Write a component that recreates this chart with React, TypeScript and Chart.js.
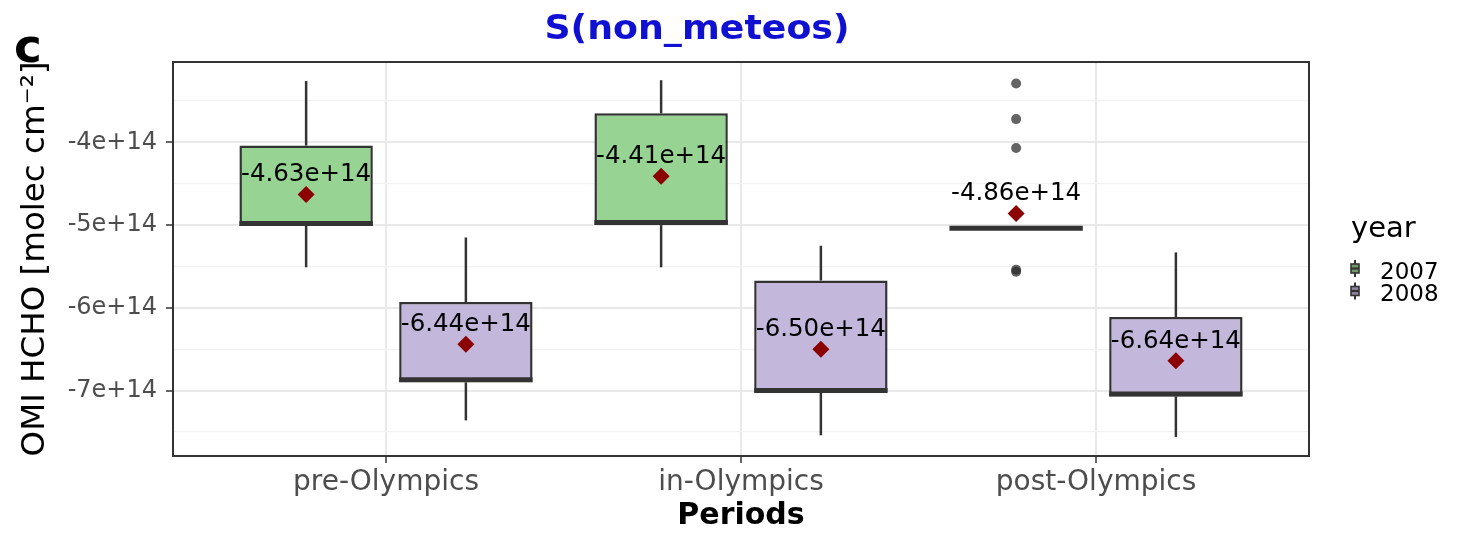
import React, { useEffect, useRef } from 'react';
import { Chart, registerables } from 'chart.js';

Chart.register(...registerables);

// ---- data -------------------------------------------------------------
const CATEGORIES = ['pre-Olympics', 'in-Olympics', 'post-Olympics'];
const YEARS = ['2007', '2008'];

const WHISKER_HIGH_2007 = [-3.26e14, -3.25e14, -5.04e14];
const Q3_2007 = [-4.04e14, -3.65e14, -5.04e14];
const MEDIAN_2007 = [-4.98e14, -4.97e14, -5.04e14];
const Q1_2007 = [-5.01e14, -5.0e14, -5.04e14];
const WHISKER_LOW_2007 = [-5.51e14, -5.51e14, -5.04e14];
const MEAN_2007 = [-4.63e14, -4.41e14, -4.86e14];

const WHISKER_HIGH_2008 = [-5.15e14, -5.25e14, -5.33e14];
const Q3_2008 = [-5.93e14, -5.67e14, -6.11e14];
const MEDIAN_2008 = [-6.87e14, -7.0e14, -7.04e14];
const Q1_2008 = [-6.9e14, -7.02e14, -7.07e14];
const WHISKER_LOW_2008 = [-7.36e14, -7.54e14, -7.56e14];
const MEAN_2008 = [-6.44e14, -6.5e14, -6.64e14];

// outlying observations of the 2007 post-Olympics group
const OUTLIERS_POST_2007 = [-3.29e14, -3.72e14, -4.07e14, -5.54e14, -5.565e14];

const Y_MAJOR_TICKS = [-7e14, -6e14, -5e14, -4e14];
const Y_MINOR_TICKS = [-7.5e14, -6.5e14, -5.5e14, -4.5e14, -3.5e14];
const Y_MIN = -7.79e14;
const Y_MAX = -3.03e14;

// ---- styling ----------------------------------------------------------
const FONT = "'DejaVu Sans', sans-serif";
const BOX_FILL = ['#97D393', '#C4B7DC'];
const LEGEND_KEY_FILL = ['#6E9A69', '#8E85A0'];
const LINE_DARK = '#333333';
const TICK_TEXT = '#4D4D4D';
const DODGE = 0.9 / 4; // half of the dodge width between the two years
const X_EXPAND = 0.6;

const BOX_STATS = [
  { lo: WHISKER_LOW_2007, q1: Q1_2007, med: MEDIAN_2007, q3: Q3_2007, hi: WHISKER_HIGH_2007 },
  { lo: WHISKER_LOW_2008, q1: Q1_2008, med: MEDIAN_2008, q3: Q3_2008, hi: WHISKER_HIGH_2008 },
];
const MEANS = [MEAN_2007, MEAN_2008];

const isMajor = (v: number) => Y_MAJOR_TICKS.some((m) => Math.abs(m - v) < 1e9);

function line(ctx: CanvasRenderingContext2D, x1: number, y1: number, x2: number, y2: number) {
  ctx.beginPath();
  ctx.moveTo(x1, y1);
  ctx.lineTo(x2, y2);
  ctx.stroke();
}

// text drawn with a horizontal stretch (wide bold face)
function wideText(ctx: CanvasRenderingContext2D, text: string, cx: number, y: number, stretch: number) {
  ctx.save();
  ctx.translate(cx, y);
  ctx.scale(stretch, 1);
  ctx.textAlign = 'center';
  ctx.fillText(text, 0, 0);
  ctx.restore();
}

// whiskers and median bars, drawn right after each box dataset
const boxParts = {
  id: 'boxParts',
  afterDatasetDraw(chart: any, args: any) {
    const stats = BOX_STATS[args.index];
    if (!stats) return;
    const ys = chart.scales.y;
    const ctx: CanvasRenderingContext2D = chart.ctx;
    ctx.save();
    ctx.strokeStyle = LINE_DARK;
    ctx.lineCap = 'butt';
    args.meta.data.forEach((bar: any, i: number) => {
      const x = bar.x;
      const half = bar.width / 2;
      ctx.lineWidth = 2.5;
      line(ctx, x, ys.getPixelForValue(stats.q3[i]), x, ys.getPixelForValue(stats.hi[i]));
      line(ctx, x, ys.getPixelForValue(stats.q1[i]), x, ys.getPixelForValue(stats.lo[i]));
      ctx.lineWidth = 5;
      const ym = ys.getPixelForValue(stats.med[i]);
      line(ctx, x - half, ym, x + half, ym);
    });
    ctx.restore();
  },
};

// mean labels, panel frame, titles and legend
const decorations = {
  id: 'decorations',
  afterDatasetsDraw(chart: any) {
    const ctx: CanvasRenderingContext2D = chart.ctx;
    ctx.save();
    ctx.font = `24.5px ${FONT}`;
    ctx.fillStyle = '#000';
    ctx.textAlign = 'center';
    ctx.textBaseline = 'alphabetic';
    [3, 4].forEach((dsIndex, k) => {
      chart.getDatasetMeta(dsIndex).data.forEach((pt: any, i: number) => {
        ctx.fillText(MEANS[k][i].toExponential(2), pt.x, pt.y - 13);
      });
    });
    ctx.restore();
  },
  afterDraw(chart: any) {
    const ctx: CanvasRenderingContext2D = chart.ctx;
    const a = chart.chartArea;
    ctx.save();
    // panel border
    ctx.strokeStyle = LINE_DARK;
    ctx.lineWidth = 2;
    ctx.strokeRect(a.left, a.top, a.right - a.left, a.bottom - a.top);

    // plot title
    ctx.fillStyle = '#1010D2';
    ctx.font = `bold 33px ${FONT}`;
    ctx.textBaseline = 'alphabetic';
    wideText(ctx, 'S(non_meteos)', 697, 39, 1.1);

    // panel tag
    ctx.fillStyle = '#000';
    ctx.font = `bold 47px ${FONT}`;
    ctx.textAlign = 'left';
    ctx.fillText('c', 14, 62);

    // legend
    const lx = a.right + 42;
    ctx.font = `29px ${FONT}`;
    ctx.fillText('year', lx, 237);
    ctx.font = `23px ${FONT}`;
    YEARS.forEach((yr, k) => {
      const top = 260 + k * 22.5;
      const cx = lx + 4;
      ctx.strokeStyle = LINE_DARK;
      ctx.lineWidth = 2;
      line(ctx, cx, top, cx, top + 17);
      ctx.fillStyle = LEGEND_KEY_FILL[k];
      ctx.fillRect(cx - 4, top + 4, 8, 9);
      ctx.lineWidth = 1.6;
      ctx.strokeRect(cx - 4, top + 4, 8, 9);
      ctx.lineWidth = 2.2;
      line(ctx, cx - 4, top + 8.5, cx + 4, top + 8.5);
      ctx.fillStyle = '#000';
      ctx.fillText(yr, lx + 29, top + 18.5);
    });
    ctx.restore();
  },
};

function buildConfig(): any {
  const boxDataset = (k: number) => ({
    type: 'bar',
    label: YEARS[k],
    data: CATEGORIES.map((_, i) => ({ x: i, y: [BOX_STATS[k].q1[i], BOX_STATS[k].q3[i]] })),
    backgroundColor: BOX_FILL[k],
    borderColor: LINE_DARK,
    borderWidth: 2.5,
    borderSkipped: false,
    categoryPercentage: 0.9,
    barPercentage: 0.835,
    order: 2,
  });
  const meanDataset = (k: number) => ({
    type: 'scatter',
    label: `mean ${YEARS[k]}`,
    data: CATEGORIES.map((_, i) => ({ x: i + (k === 0 ? -DODGE : DODGE), y: MEANS[k][i] })),
    pointStyle: 'rectRot',
    pointRadius: 8.5,
    backgroundColor: '#8B0000',
    borderWidth: 0,
    order: 0,
  });

  return {
    type: 'bar',
    data: {
      datasets: [
        boxDataset(0),
        boxDataset(1),
        {
          type: 'scatter',
          label: 'outliers',
          data: OUTLIERS_POST_2007.map((v) => ({ x: 2 - DODGE, y: v })),
          pointRadius: 5,
          backgroundColor: 'rgba(40,40,40,0.72)',
          borderWidth: 0,
          order: 1,
        },
        meanDataset(0),
        meanDataset(1),
      ],
    },
    options: {
      responsive: false,
      animation: false,
      devicePixelRatio: 1,
      layout: { padding: { left: 0, top: 62, right: 153, bottom: 0 } },
      plugins: {
        legend: { display: false },
        title: { display: false },
        tooltip: { enabled: false },
      },
      scales: {
        x: {
          type: 'linear',
          min: -X_EXPAND,
          max: CATEGORIES.length - 1 + X_EXPAND,
          offset: false,
          afterBuildTicks: (s: any) => {
            s.ticks = CATEGORIES.map((_, i) => ({ value: i }));
          },
          afterFit: (s: any) => {
            s.height = 78;
          },
          border: { display: false },
          grid: {
            offset: false,
            color: '#E9E9E9',
            lineWidth: 2,
            drawTicks: true,
            tickLength: 7,
            tickColor: LINE_DARK,
            tickWidth: 1.5,
          },
          ticks: {
            autoSkip: false,
            maxRotation: 0,
            padding: 3,
            color: TICK_TEXT,
            font: { family: FONT, size: 28 },
            callback: (v: number) => CATEGORIES[v] ?? '',
          },
          title: {
            display: true,
            text: 'Periods',
            color: '#000',
            font: { family: FONT, size: 30, weight: 'bold' },
            padding: { top: 0, bottom: 0 },
          },
        },
        y: {
          min: Y_MIN,
          max: Y_MAX,
          afterBuildTicks: (s: any) => {
            s.ticks = [...Y_MINOR_TICKS, ...Y_MAJOR_TICKS]
              .sort((p, q) => p - q)
              .map((v) => ({ value: v }));
          },
          afterFit: (s: any) => {
            s.width = 173;
          },
          border: { display: false },
          grid: {
            color: (c: any) => (isMajor(c.tick.value) ? '#E9E9E9' : '#F2F2F2'),
            lineWidth: (c: any) => (isMajor(c.tick.value) ? 2 : 1.2),
            drawTicks: true,
            tickLength: 7,
            tickColor: (c: any) => (isMajor(c.tick.value) ? LINE_DARK : 'rgba(0,0,0,0)'),
            tickWidth: 1.5,
          },
          ticks: {
            autoSkip: false,
            padding: 9,
            color: TICK_TEXT,
            font: { family: FONT, size: 24 },
            callback: (v: number) => (isMajor(v) ? `${Math.round(v / 1e14)}e+14` : ''),
          },
          title: {
            display: true,
            text: 'OMI HCHO [molec cm⁻²]',
            color: '#000',
            font: { family: FONT, size: 32.5 },
            padding: { top: 16, bottom: 0 },
          },
        },
      },
    },
    plugins: [boxParts, decorations],
  };
}

export default function App() {
  const ref = useRef<HTMLCanvasElement>(null);
  useEffect(() => {
    document.body.style.margin = '0';
    const chart = new Chart(ref.current as HTMLCanvasElement, buildConfig());
    return () => chart.destroy();
  }, []);
  return (
    <div style={{ width: 1462, height: 534, background: '#fff' }}>
      <canvas ref={ref} width={1462} height={534} style={{ display: 'block' }} />
    </div>
  );
}
